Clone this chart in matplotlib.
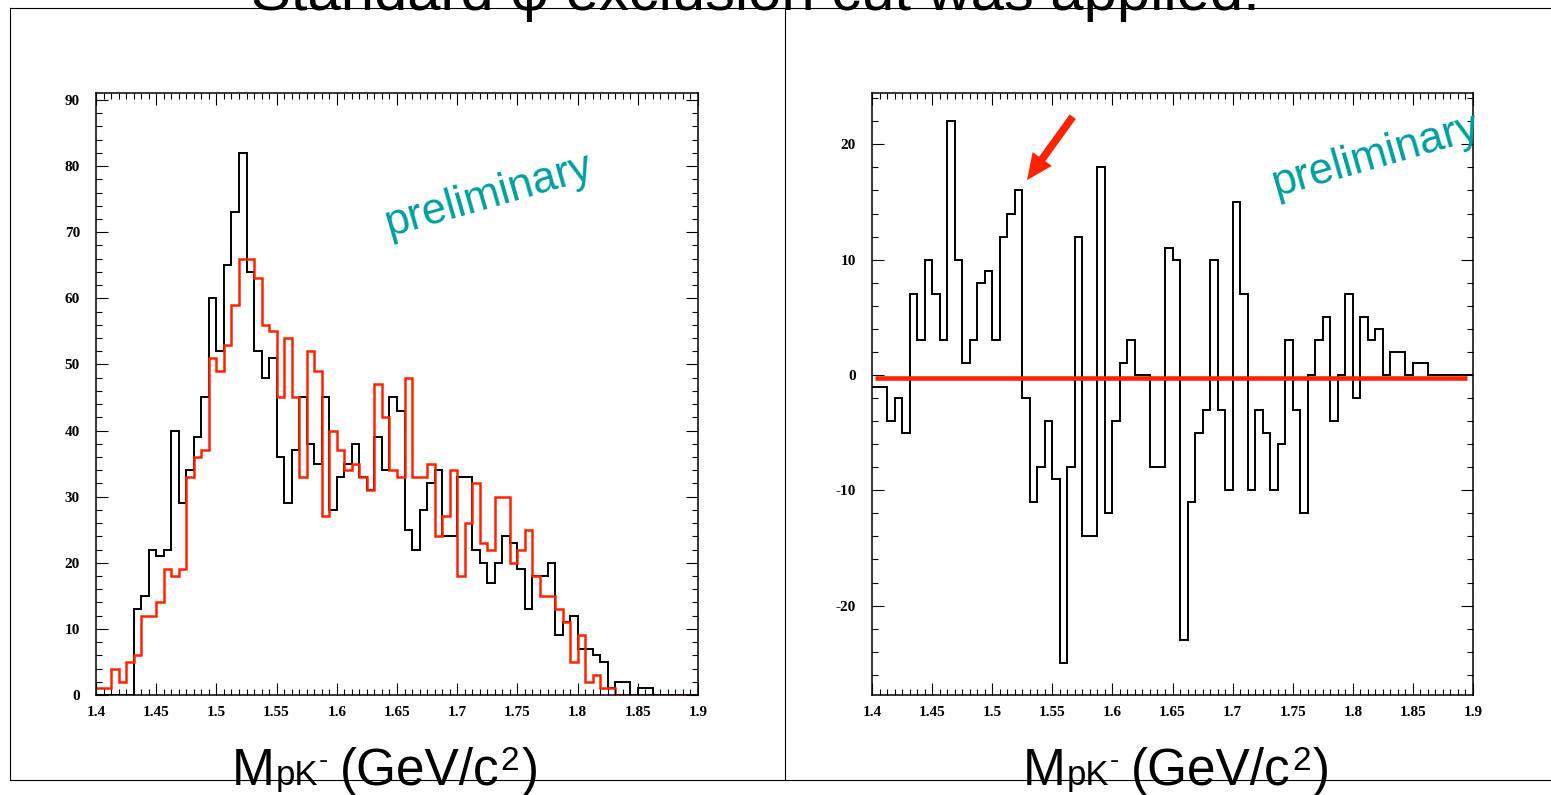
import numpy as np
import matplotlib
matplotlib.use("Agg")
import matplotlib.pyplot as plt
from matplotlib.ticker import MultipleLocator, FuncFormatter
from matplotlib.patches import FancyArrowPatch
from matplotlib.lines import Line2D
from matplotlib.transforms import IdentityTransform

# ---- data -------------------------------------------------------------
mass_min, mass_max, n_bins = 1.4, 1.9, 80

# M(pK-) spectrum, black histogram
hist_data = [0, 0, 0, 0, 0, 13, 15, 22, 21, 22,
             40, 29, 34, 39, 45, 60, 52, 65, 73, 82,
             64, 52, 48, 51, 36, 29, 37, 45, 38, 35,
             45, 28, 33, 35, 38, 33, 31, 39, 34, 45,
             43, 25, 22, 28, 32, 34, 24, 24, 33, 33,
             22, 20, 17, 20, 24, 23, 19, 13, 18, 18,
             20, 9, 11, 12, 7, 7, 6, 5, 1, 2,
             2, 0, 1, 1, 0, 0, 0, 0, 0, 0]

# reference spectrum, red histogram
hist_ref = [1, 1, 4, 2, 5, 6, 12, 12, 14, 19,
            18, 19, 33, 36, 37, 51, 49, 53, 59, 66,
            66, 63, 56, 55, 45, 54, 45, 33, 52, 49,
            27, 40, 37, 34, 35, 33, 31, 47, 42, 34,
            33, 48, 33, 33, 35, 24, 27, 34, 18, 26,
            32, 23, 22, 30, 30, 20, 22, 25, 18, 15,
            15, 13, 11, 5, 9, 2, 3, 1, 1, 0,
            0, 0, 0, 0, 0, 0, 0, 0, 0, 0]

# constant fit to the difference
fit_level = -0.3
fit_lo, fit_hi = 1.4025, 1.895

x_major = 0.05
# -----------------------------------------------------------------------

W, H = 1551, 795
RED = "#ff2200"
TEAL = "#00a0a0"
SANS = ["Liberation Sans", "DejaVu Sans"]

plt.rcParams["font.family"] = ["Liberation Serif", "DejaVu Serif"]
plt.rcParams["font.weight"] = "bold"
plt.rcParams["axes.unicode_minus"] = False

edges = np.linspace(mass_min, mass_max, n_bins + 1)
diff = np.array(hist_data) - np.array(hist_ref)

fig = plt.figure(figsize=(W / 100, H / 100), dpi=100)
fig.patch.set_facecolor("white")

ax1 = fig.add_axes([96 / W, 1 - 695 / H, 602 / W, 602 / H])
ax2 = fig.add_axes([872 / W, 1 - 695 / H, 601 / W, 602 / H])

ax1.stairs(hist_data, edges, color="black", lw=1.4, baseline=None)
ax1.stairs(hist_ref, edges, color=RED, lw=1.8, baseline=None)
ax1.set_ylim(0, 91.05)

ax2.stairs(diff, edges, color="black", lw=1.4, baseline=None)
ax2.plot([fit_lo, fit_hi], [fit_level, fit_level], color=RED, lw=3.3,
         solid_capstyle="butt")
ax2.set_ylim(-27.75, 24.45)

fmt = FuncFormatter(lambda v, p: "%g" % round(v, 4))
for ax in (ax1, ax2):
    ax.set_xlim(mass_min, mass_max)
    ax.xaxis.set_major_locator(MultipleLocator(x_major))
    ax.xaxis.set_minor_locator(MultipleLocator(x_major / 8))
    ax.yaxis.set_major_locator(MultipleLocator(10))
    ax.yaxis.set_minor_locator(MultipleLocator(2))
    ax.xaxis.set_major_formatter(fmt)
    ax.yaxis.set_major_formatter(fmt)
    ax.tick_params(which="both", direction="in", top=True, right=True,
                   width=0.8, colors="black")
    ax.tick_params(which="major", length=8.6)
    ax.tick_params(which="minor", length=4.3)
    ax.tick_params(axis="x", which="major", pad=8.0, labelsize=11)
    ax.tick_params(axis="y", which="major", pad=11.5, labelsize=11)
    for sp in ax.spines.values():
        sp.set_linewidth(1.1)

# "preliminary" stamps
ax1.text(1.6434, 69.4, "preliminary", color=TEAL, fontsize=31.5,
         family=SANS, weight="normal", rotation=16, rotation_mode="anchor",
         ha="left", va="baseline")
ax2.text(1.736, 15.5, "preliminary", color=TEAL, fontsize=31.5,
         family=SANS, weight="normal", rotation=16, rotation_mode="anchor",
         ha="left", va="baseline", clip_on=False)

# arrow pointing at the excess
arrow = FancyArrowPatch((1.567, 22.4), (1.529, 16.9),
                        arrowstyle="simple,head_length=1.7,head_width=1.55,tail_width=0.5",
                        mutation_scale=11, color=RED, lw=0,
                        shrinkA=0, shrinkB=0, transform=ax2.transData)
ax2.add_patch(arrow)

# slide frame lines
frame_kw = dict(transform=fig.transFigure, color="black", lw=0.8)
fig.add_artist(Line2D([10 / W, 1], [1 - 8 / H, 1 - 8 / H], **frame_kw))
fig.add_artist(Line2D([10 / W, 1], [1 - 780 / H, 1 - 780 / H], **frame_kw))
fig.add_artist(Line2D([10 / W, 10 / W], [1 - 8 / H, 1 - 780 / H], **frame_kw))
fig.add_artist(Line2D([785 / W, 785 / W], [1 - 8 / H, 1 - 780 / H], **frame_kw))

# headline (runs off the top of the slide)
fig.text(755 / W, 1 - 10 / H, "Standard φ exclusion cut was applied.",
         ha="center", va="baseline", fontsize=43, family=SANS, weight="normal")

# axis titles built from pieces of different size
renderer = fig.canvas.get_renderer()


def mass_label(center_px, baseline_px):
    pieces = [("M", 37, 0, 0), ("pK", 25, 0, 1), ("-", 20, 17, 1),
              ("(GeV/c", 37, 0, 12), ("2", 24, 15, 1), (")", 37, 0, 2)]
    placed = []
    x = 0.0
    for s, size, dy, gap in pieces:
        t = fig.text(0, 0, s, transform=IdentityTransform(), fontsize=size,
                     family=SANS, weight="normal", ha="left", va="baseline")
        x += gap
        placed.append((t, x, dy))
        x += t.get_window_extent(renderer).width
    x0 = center_px - x / 2
    for t, off, dy in placed:
        t.set_position((x0 + off, baseline_px + dy))


mass_label(385, H - 785)
mass_label(1176, H - 785)

fig.savefig("out.png", dpi=100)
